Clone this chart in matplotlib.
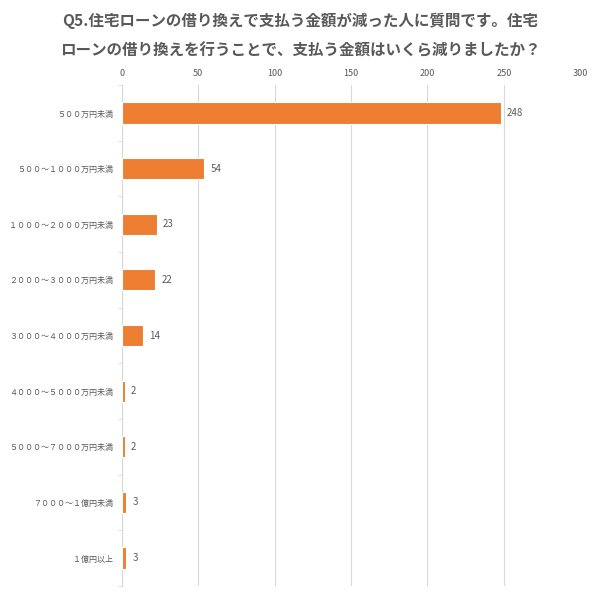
import numpy as np
import matplotlib.pyplot as plt

plt.rcParams['font.family'] = ['Noto Sans CJK JP', 'DejaVu Sans']

# データ
categories = ['５００万円未満', '５００～１０００万円未満', '１０００～２０００万円未満',
              '２０００～３０００万円未満', '３０００～４０００万円未満', '４０００～５０００万円未満',
              '５０００～７０００万円未満', '７０００～１億円未満', '１億円以上']
values = [248, 54, 23, 22, 14, 2, 2, 3, 3]
xticks = [0, 50, 100, 150, 200, 250, 300]

grey = '#595959'
fig = plt.figure(figsize=(6, 5.96), dpi=100)
ax = fig.add_axes([0.203, 0.017, 0.764, 0.84])

y = np.arange(len(categories))
ax.barh(y, values, height=0.38, color='#ED7D31', edgecolor='white', linewidth=0.8, zorder=3)
for yi, v in zip(y, values):
    ax.text(v + 4, yi, str(v), va='center', ha='left', fontsize=7, color=grey)

ax.set_ylim(len(categories) - 0.5, -0.5)
ax.set_yticks(y)
ax.set_yticklabels(categories, fontsize=5.8, color=grey)
ax.set_yticks(np.arange(len(categories) + 1) - 0.5, minor=True)
ax.tick_params(axis='y', which='major', length=0, pad=6.5)
ax.tick_params(axis='y', which='minor', length=3, color='#D9D9D9')

ax.set_xlim(0, 300)
ax.set_xticks(xticks)
ax.xaxis.tick_top()
ax.tick_params(axis='x', length=0, labelsize=6.5, labelcolor=grey, pad=5)
ax.grid(axis='x', color='#D9D9D9', linewidth=0.8, zorder=0)

for s in ['top', 'right', 'bottom']:
    ax.spines[s].set_visible(False)
ax.spines['left'].set_color('#D9D9D9')

fig.text(0.5, 0.965, 'Q5.住宅ローンの借り換えで支払う金額が減った人に質問です。住宅',
         ha='center', va='center', fontsize=11.2, fontweight='bold', color=grey)
fig.text(0.5, 0.915, 'ローンの借り換えを行うことで、支払う金額はいくら減りましたか？',
         ha='center', va='center', fontsize=11.2, fontweight='bold', color=grey)

fig.savefig('out.png', dpi=100, facecolor='white')
